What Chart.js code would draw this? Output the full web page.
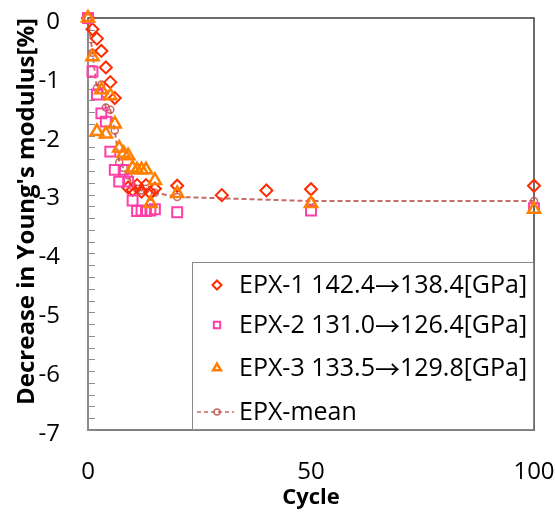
<!DOCTYPE html>
<html>
<head>
<meta charset="utf-8">
<script src="https://cdn.jsdelivr.net/npm/chart.js@4.4.1/dist/chart.umd.min.js"></script>
<style>
  html, body { margin: 0; padding: 0; background: #fff; }
</style>
</head>
<body>
<canvas id="modulusChart" width="555" height="514"></canvas>
<script>
'use strict';

// cycles and decrease in Young's modulus [%]
var cyclesEpx1 = [0, 1, 2, 3, 4, 5, 6, 9, 10, 11, 12, 13, 14, 15, 20, 30, 40, 50, 100];
var epx1 = [0, -0.19, -0.35, -0.56, -0.84, -1.09, -1.36, -2.88, -2.92, -2.84, -2.95, -2.84, -2.97, -2.90, -2.85, -3.01, -2.93, -2.91, -2.85];

var cycles = [0, 1, 2, 3, 4, 5, 6, 7, 8, 9, 10, 11, 12, 13, 14, 15, 20, 50, 100];
var epx2 = [0, -0.91, -1.30, -1.62, -1.76, -2.27, -2.58, -2.78, -2.58, -2.78, -3.10, -3.28, -3.27, -3.28, -3.27, -3.25, -3.30, -3.27, -3.23];
var epx3 = [0, -0.66, -1.93, -1.22, -1.97, -1.32, -1.80, -2.21, -2.30, -2.34, -2.55, -2.58, -2.58, -2.58, -3.15, -2.76, -2.98, -3.15, -3.25];
var epxMean = [0, -0.59, -1.19, -1.13, -1.52, -1.56, -1.91, -2.45, -2.55, -2.67, -2.86, -2.90, -2.93, -2.90, -3.13, -2.97, -3.04, -3.11, -3.11];

var seriesLabels = ['EPX-1 142.4\u2192138.4[GPa]', 'EPX-2 131.0\u2192126.4[GPa]', 'EPX-3 133.5\u2192129.8[GPa]', 'EPX-mean'];
var xTicks = [0, 50, 100];
var yTicks = [-7, -6, -5, -4, -3, -2, -1, 0];

var red = '#ff2a00';
var pink = '#ff3fa6';
var orange = '#ff8000';
var meanColor = 'rgba(192, 80, 77, 0.85)';

var textFont = '25px "Open Sans"';
var arrowFont = '25px "Noto Sans CJK JP"';

function toPoints(xs, ys) {
    return ys.map(function (y, i) { return { x: xs[i], y: y }; });
}

// writes a label, the arrow taken from a CJK font like the original
function fillLabel(ctx, text, x, y) {
    var parts = text.split('\u2192');
    ctx.font = textFont;
    ctx.fillText(parts[0], x, y);
    if (parts.length < 2) {
        return;
    }
    x += ctx.measureText(parts[0]).width;
    ctx.font = arrowFont;
    ctx.fillText('\u2192', x, y);
    x += ctx.measureText('\u2192').width;
    ctx.font = textFont;
    ctx.fillText(parts[1], x, y);
}

// legend box drawn inside the plot, bottom right
var boxLegend = {
    id: 'boxLegend',
    afterDraw: function (chart) {
        var ctx = chart.ctx;
        var ca = chart.chartArea;
        var left = ca.left + 104, top = ca.bottom - 168;
        var right = ca.right, bottom = ca.bottom;
        ctx.save();
        ctx.fillStyle = '#fff';
        ctx.fillRect(left, top, right - left, bottom - top);
        ctx.strokeStyle = '#8a8a8a';
        ctx.lineWidth = 1;
        ctx.strokeRect(left + 0.5, top + 0.5, right - left - 1, bottom - top - 1);

        var rows = [23, 63, 106, 150];
        ctx.textBaseline = 'middle';
        chart.data.datasets.forEach(function (ds, i) {
            var y = top + rows[i];
            var mx = left + 25;
            ctx.strokeStyle = ds.borderColor;
            ctx.fillStyle = 'rgba(0,0,0,0)';
            if (ds.showLine) {
                ctx.lineWidth = 1.5;
                ctx.setLineDash([4, 3]);
                ctx.beginPath();
                ctx.moveTo(left + 5, y);
                ctx.lineTo(left + 42, y);
                ctx.stroke();
                ctx.setLineDash([]);
            }
            ctx.lineWidth = ds.pointBorderWidth;
            Chart.helpers.drawPoint(ctx, {
                pointStyle: ds.pointStyle,
                radius: ds.showLine ? 3 : 4.5,
                rotation: 0,
                borderWidth: ds.pointBorderWidth
            }, mx, y);
            ctx.fillStyle = '#000';
            fillLabel(ctx, ds.label, left + 47, y + 1);
        });
        ctx.restore();
    }
};

// plot frame and inward minor ticks on the value axis
var plotFrame = {
    id: 'plotFrame',
    beforeDatasetsDraw: function (chart) {
        var ctx = chart.ctx;
        var ca = chart.chartArea;
        var yScale = chart.scales.y;
        ctx.save();
        ctx.strokeStyle = '#3c3c3c';
        ctx.lineWidth = 1.5;
        ctx.beginPath();
        ctx.moveTo(ca.left, ca.top);
        ctx.lineTo(ca.right, ca.top);
        ctx.lineTo(ca.right, ca.bottom);
        ctx.stroke();
        ctx.strokeStyle = '#8c8c8c';
        ctx.lineWidth = 1;
        for (var k = 0; k <= 35; k++) {
            var py = Math.round(yScale.getPixelForValue(-7 + k * 0.2)) + 0.5;
            ctx.beginPath();
            ctx.moveTo(ca.left, py);
            ctx.lineTo(ca.left + 7, py);
            ctx.stroke();
        }
        ctx.restore();
    }
};

var chart = new Chart(document.getElementById('modulusChart'), {
    type: 'scatter',
    data: {
        datasets: [
            {
                label: seriesLabels[0],
                data: toPoints(cyclesEpx1, epx1),
                pointStyle: 'rectRot',
                pointRadius: 6,
                pointBorderWidth: 2,
                borderColor: red,
                backgroundColor: 'rgba(0,0,0,0)',
                showLine: false,
                clip: false,
                order: 3
            },
            {
                label: seriesLabels[1],
                data: toPoints(cycles, epx2),
                pointStyle: 'rect',
                pointRadius: 7,
                pointBorderWidth: 2,
                borderColor: pink,
                backgroundColor: 'rgba(0,0,0,0)',
                showLine: false,
                clip: false,
                order: 2
            },
            {
                label: seriesLabels[2],
                data: toPoints(cycles, epx3),
                pointStyle: 'triangle',
                pointRadius: 7,
                pointBorderWidth: 2.5,
                borderColor: orange,
                backgroundColor: 'rgba(0,0,0,0)',
                showLine: false,
                clip: false,
                order: 1
            },
            {
                label: seriesLabels[3],
                data: toPoints(cycles, epxMean),
                pointStyle: 'circle',
                pointRadius: 3.5,
                pointBorderWidth: 1.5,
                borderColor: meanColor,
                backgroundColor: 'rgba(0,0,0,0)',
                borderWidth: 2,
                borderDash: [5, 3],
                showLine: true,
                clip: false,
                order: 4
            }
        ]
    },
    options: {
        responsive: false,
        animation: false,
        devicePixelRatio: 1,
        layout: { padding: { top: 18, right: 21, left: 0, bottom: 0 } },
        plugins: {
            legend: { display: false },
            tooltip: { enabled: false }
        },
        scales: {
            x: {
                type: 'linear',
                min: 0,
                max: 100,
                afterBuildTicks: function (scale) {
                    scale.ticks = xTicks.map(function (v) { return { value: v }; });
                },
                afterFit: function (scale) {
                    scale.height = 84;
                    scale.paddingLeft = 0;
                    scale.paddingRight = 0;
                },
                grid: { display: true, drawOnChartArea: false, drawTicks: false },
                border: { display: true, color: '#7f7f7f', width: 2 },
                ticks: {
                    padding: 28,
                    maxRotation: 0,
                    color: '#000',
                    font: { family: 'Open Sans', size: 24 }
                },
                title: {
                    display: true,
                    text: 'Cycle',
                    color: '#000',
                    padding: { top: 0, bottom: 3 },
                    font: { family: 'Open Sans', size: 22, weight: 'bold' }
                }
            },
            y: {
                type: 'linear',
                min: -7,
                max: 0,
                afterBuildTicks: function (scale) {
                    scale.ticks = yTicks.map(function (v) { return { value: v }; });
                },
                afterFit: function (scale) {
                    scale.width = 88;
                    scale.paddingTop = 0;
                    scale.paddingBottom = 0;
                },
                grid: { display: true, drawOnChartArea: false, drawTicks: false },
                border: { display: true, color: '#8c8c8c', width: 2 },
                ticks: {
                    padding: 28,
                    labelOffset: 4,
                    color: '#000',
                    font: { family: 'Open Sans', size: 24 }
                },
                title: {
                    display: true,
                    text: 'Decrease in Young\'s modulus[%]',
                    align: 'end',
                    color: '#000',
                    padding: { top: 13, bottom: 0 },
                    font: { family: 'Open Sans', size: 24, weight: 'bold' }
                }
            }
        }
    },
    plugins: [plotFrame, boxLegend]
});
</script>
</body>
</html>
